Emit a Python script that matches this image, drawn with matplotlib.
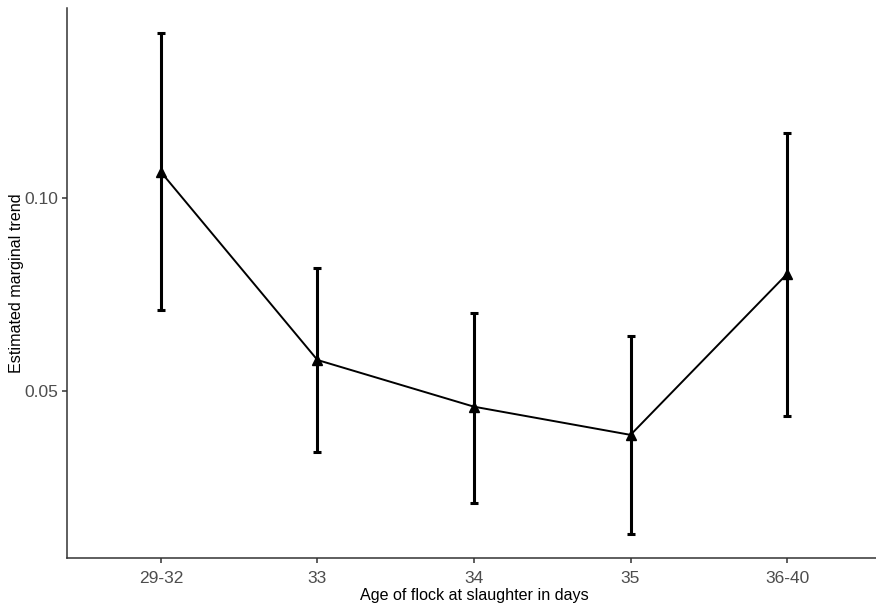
import matplotlib
matplotlib.use('Agg')
from matplotlib import pyplot as plt
import numpy as np

plt.rcParams['font.family'] = ['Liberation Sans', 'DejaVu Sans']

ages = ['29-32', '33', '34', '35', '36-40']
trend = [0.1067, 0.0580, 0.0459, 0.0386, 0.0803]
lower = [0.0710, 0.0342, 0.0210, 0.0130, 0.0435]
upper = [0.1427, 0.0819, 0.0702, 0.0642, 0.1168]

W, H = 876, 606
fig = plt.figure(figsize=(W / 100, H / 100), dpi=100)
ax = fig.add_axes([67 / W, 48 / H, (881 - 67) / W, (558 - 8) / H])

x = np.arange(len(ages))
trend = np.array(trend)
yerr = [trend - np.array(lower), np.array(upper) - trend]

ax.errorbar(x, trend, yerr=yerr, fmt='none', ecolor='black', elinewidth=2.2,
            capsize=3.2, capthick=2.2)
ax.plot(x, trend, color='black', linewidth=1.4, marker='^', markersize=7.5)

ax.set_xlim(-0.6, len(ages) - 1 + 0.6)
ax.set_ylim(0.0067, 0.1492)
ax.set_xticks(x)
ax.set_xticklabels(ages)
ax.set_yticks([0.05, 0.10])
ax.set_yticklabels(['0.05', '0.10'])

for side in ['top', 'right']:
    ax.spines[side].set_visible(False)
for side in ['left', 'bottom']:
    ax.spines[side].set_linewidth(1.1)
    ax.spines[side].set_color('#333333')

ax.tick_params(axis='both', colors='#333333', labelcolor='#4D4D4D',
               labelsize=12.5, length=3.5, width=1.1, pad=3)
ax.tick_params(axis='x', pad=6)
ax.set_xlabel('Age of flock at slaughter in days', fontsize=11.6, labelpad=1)
ax.set_ylabel('Estimated marginal trend', fontsize=11.6, labelpad=0)

fig.savefig('out.png', dpi=100)
